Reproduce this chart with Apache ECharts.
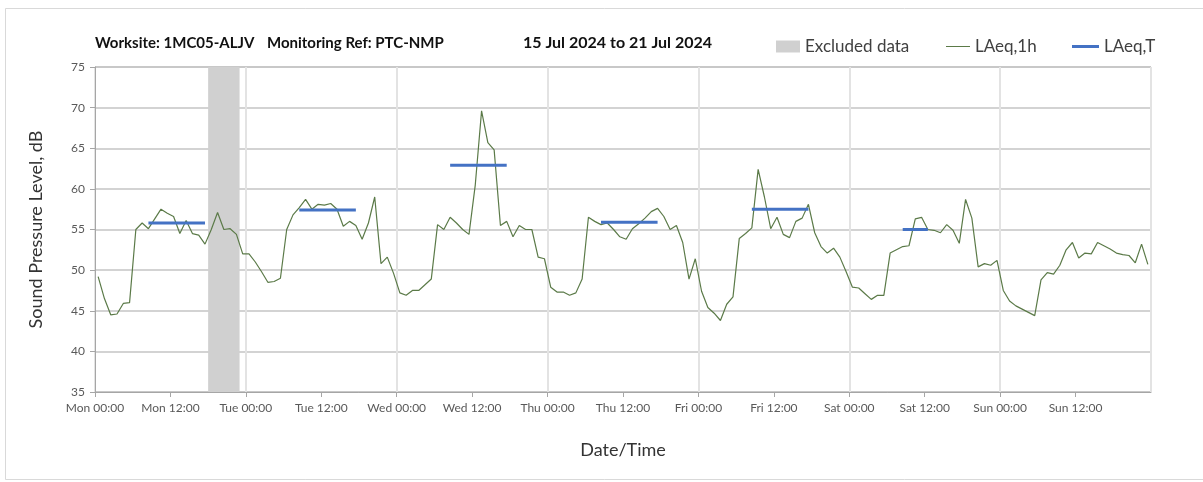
<!DOCTYPE html>
<html>
<head>
<meta charset="utf-8">
<title>Sound Pressure Level - PTC-NMP</title>
<script src="https://cdn.jsdelivr.net/npm/echarts@6/dist/echarts.min.js"></script>
<style>
  html, body { margin: 0; padding: 0; background: #fff; }
  #chart { width: 1203px; height: 482px; }
</style>
</head>
<body>
<div id="chart"></div>
<script>
// x axis runs in hours from Mon 00:00 (15 Jul 2024)
const tickLabels = [
  'Mon 00:00', 'Mon 12:00', 'Tue 00:00', 'Tue 12:00', 'Wed 00:00', 'Wed 12:00',
  'Thu 00:00', 'Thu 12:00', 'Fri 00:00', 'Fri 12:00', 'Sat 00:00', 'Sat 12:00',
  'Sun 00:00', 'Sun 12:00'
];

// hourly LAeq,1h readings, plotted at the middle of each hour
const laeq1h = [
  49.2, 46.5, 44.5, 44.6, 45.9, 46.0, 55.0, 55.8, 55.1, 56.3,
  57.5, 57.0, 56.6, 54.5, 56.1, 54.5, 54.3, 53.2, 55.0, 57.1,
  55.0, 55.1, 54.4, 52.0, 52.0, 51.0, 49.8, 48.5, 48.6, 49.0,
  55.0, 56.8, 57.7, 58.7, 57.5, 58.1, 58.0, 58.2, 57.5, 55.4,
  56.0, 55.5, 53.8, 55.8, 59.0, 50.8, 51.6, 49.6, 47.2, 46.9,
  47.5, 47.5, 48.2, 48.9, 55.6, 55.0, 56.5, 55.8, 55.0, 54.4,
  60.5, 69.6, 65.7, 64.8, 55.5, 56.0, 54.1, 55.5, 55.0, 55.0,
  51.6, 51.4, 47.9, 47.3, 47.3, 46.9, 47.2, 48.9, 56.5, 56.0,
  55.6, 55.8, 55.0, 54.1, 53.8, 55.1, 55.7, 56.4, 57.2, 57.6,
  56.6, 55.0, 55.5, 53.4, 48.9, 51.4, 47.4, 45.4, 44.7, 43.8,
  45.8, 46.7, 53.9, 54.5, 55.2, 62.4, 59.0, 55.1, 56.5, 54.4,
  54.0, 56.0, 56.4, 58.1, 54.6, 52.9, 52.1, 52.7, 51.6, 49.8,
  47.9, 47.8, 47.1, 46.4, 46.9, 46.9, 52.1, 52.5, 52.9, 53.0,
  56.3, 56.5, 55.0, 54.9, 54.6, 55.6, 54.9, 53.3, 58.7, 56.4,
  50.4, 50.8, 50.6, 51.2, 47.5, 46.2, 45.6, 45.2, 44.8, 44.4,
  48.8, 49.7, 49.5, 50.6, 52.5, 53.4, 51.5, 52.1, 52.0, 53.4,
  53.0, 52.6, 52.1, 51.9, 51.8, 50.9, 53.2, 50.7
];

// LAeq,T over each working period (start hour, end hour, level)
const periodStart = [8.5, 32.5, 56.5, 80.5, 104.5, 128.5];
const periodEnd   = [17.5, 41.5, 65.5, 89.5, 113.5, 132.5];
const laeqT       = [55.8, 57.4, 62.9, 55.9, 57.5, 55.0];

// excluded data window (hours)
const excludedStart = 18;
const excludedEnd = 23;

const fontFamily = 'Lato, "Open Sans", sans-serif';

const lineData = laeq1h.map(function (v, i) { return [i + 0.5, v]; });

const periodSeries = laeqT.map(function (v, k) {
  return {
    name: 'LAeq,T',
    type: 'line',
    showSymbol: false,
    color: '#4472c4',
    lineStyle: { color: '#4472c4', width: 3, cap: 'butt' },
    data: [[periodStart[k], v], [periodEnd[k], v]],
    z: 4
  };
});

const legendText = { fontFamily: fontFamily, fontSize: 17, color: '#404040' };
const titleText = { fontFamily: fontFamily, fontSize: 15, fontWeight: 'bold', color: '#111' };

const option = {
  backgroundColor: '#fff',
  animation: false,
  title: [
    { text: 'Worksite: 1MC05-ALJV', left: 90, top: 31, textStyle: titleText },
    { text: 'Monitoring Ref: PTC-NMP', left: 262, top: 31, textStyle: titleText },
    { text: '15 Jul 2024 to 21 Jul 2024', left: 518, top: 30,
      textStyle: Object.assign({}, titleText, { fontSize: 16 }) }
  ],
  graphic: [{
    type: 'rect',
    silent: true,
    shape: { x: 5.5, y: 8.5, width: 1200, height: 471 },
    style: { fill: 'none', stroke: '#d9d9d9', lineWidth: 1 }
  }],
  legend: [
    {
      left: 771, top: 33, itemWidth: 24, itemHeight: 12, itemGap: 4,
      textStyle: legendText, selectedMode: false,
      data: [{ name: 'Excluded data', icon: 'rect', itemStyle: { color: '#d0d0d0' } }]
    },
    {
      left: 941, top: 33, itemWidth: 24, itemHeight: 12,
      textStyle: legendText, selectedMode: false,
      data: [{ name: 'LAeq,1h', icon: 'path://M0,0H24V1H0Z', itemStyle: { color: '#5b7a48' } }]
    },
    {
      left: 1067, top: 33, itemWidth: 27, itemHeight: 12,
      textStyle: legendText, selectedMode: false,
      data: [{ name: 'LAeq,T', icon: 'path://M0,0H27V3H0Z', itemStyle: { color: '#4472c4' } }]
    }
  ],
  grid: {
    left: 95, right: 52, top: 67, bottom: 90,
    show: true, borderColor: '#a6a6a6', borderWidth: 1
  },
  xAxis: [
    {
      type: 'value', min: 0, max: 168, interval: 12,
      name: 'Date/Time', nameLocation: 'middle', nameGap: 49,
      nameTextStyle: { fontFamily: fontFamily, fontSize: 18, color: '#333' },
      axisLine: { lineStyle: { color: '#a6a6a6' } },
      axisTick: { length: 5, lineStyle: { color: '#a6a6a6' } },
      axisLabel: {
        fontFamily: fontFamily, fontSize: 12, color: '#595959', margin: 10,
        showMaxLabel: false,
        formatter: function (v) { return tickLabels[Math.round(v / 12)] || ''; }
      },
      splitLine: { show: false }
    },
    {
      // day boundaries only
      type: 'value', min: 0, max: 168, interval: 24, position: 'bottom',
      axisLine: { show: false }, axisTick: { show: false }, axisLabel: { show: false },
      splitLine: { show: true, lineStyle: { color: '#e3e3e3', width: 2 } }
    }
  ],
  yAxis: {
    type: 'value', min: 35, max: 75, interval: 5,
    name: 'Sound Pressure Level, dB', nameLocation: 'middle', nameGap: 50,
    nameTextStyle: { fontFamily: fontFamily, fontSize: 18, color: '#333' },
    axisLine: { show: true, lineStyle: { color: '#a6a6a6' } },
    axisTick: { show: true, length: 5, lineStyle: { color: '#a6a6a6' } },
    axisLabel: { fontFamily: fontFamily, fontSize: 12, color: '#595959', margin: 10 },
    splitLine: { show: true, lineStyle: { color: '#c4c4c4', width: 1.5 } }
  },
  series: [
    {
      name: 'Excluded data',
      type: 'line',
      color: '#d0d0d0',
      data: []
    },
    {
      name: 'LAeq,1h',
      type: 'line',
      showSymbol: false,
      color: '#5b7a48',
      lineStyle: { color: '#5b7a48', width: 1.2 },
      data: lineData,
      z: 3,
      markArea: {
        silent: true,
        itemStyle: { color: '#d0d0d0' },
        data: [[{ xAxis: excludedStart }, { xAxis: excludedEnd }]]
      }
    }
  ].concat(periodSeries)
};

const chart = echarts.init(document.getElementById('chart'));
chart.setOption(option);
</script>
</body>
</html>
